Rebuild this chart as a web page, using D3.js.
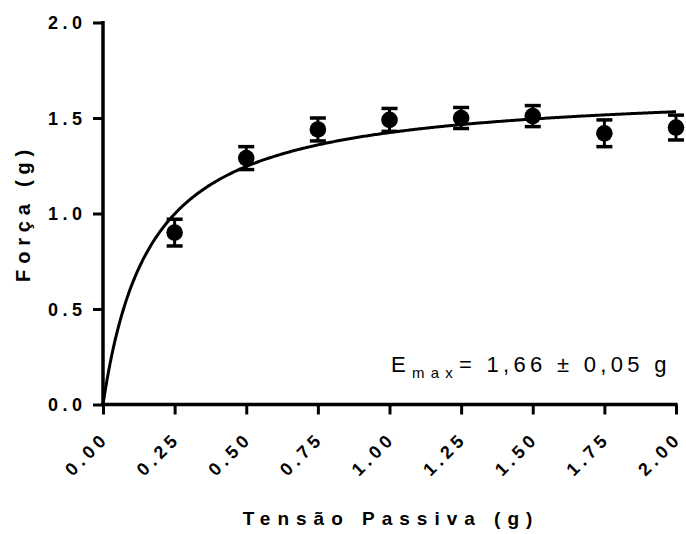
<!DOCTYPE html>
<html>
<head>
<meta charset="utf-8">
<script src="https://cdn.jsdelivr.net/npm/d3@7"></script>
<style>
  html, body { margin: 0; padding: 0; background: #fff; }
  svg { display: block; font-family: "Liberation Sans", Arial, sans-serif; }
</style>
</head>
<body>
<svg id="chart" width="686" height="534"></svg>
<script>
// Passive tension (g) and developed force (g), mean ± SEM
const tension = [0.25, 0.50, 0.75, 1.00, 1.25, 1.50, 1.75, 2.00];
const force   = [0.90, 1.29, 1.44, 1.49, 1.50, 1.51, 1.42, 1.45];
const sem     = [0.07, 0.06, 0.06, 0.06, 0.055, 0.055, 0.07, 0.065];

// Hyperbolic fit: F = Emax * T / (K + T)
const emax = 1.66;
const emaxErr = 0.05;
const kHalf = 0.166;

const xTicks = [0, 0.25, 0.5, 0.75, 1, 1.25, 1.5, 1.75, 2];
const yTicks = [0, 0.5, 1, 1.5, 2];

const svg = d3.select("#chart");
const x = d3.scaleLinear().domain([0, 2]).range([103, 676]);
const y = d3.scaleLinear().domain([0, 2]).range([404.5, 22.5]);

// Y axis
const yAxis = svg.append("g").attr("transform", "translate(103,0)")
  .call(d3.axisLeft(y).tickValues(yTicks).tickSize(10).tickFormat(d3.format(".1f")));
yAxis.select(".domain").attr("stroke-width", 3.5).attr("d", `M0,${y(2)-1.5}V${y(0)}`);
yAxis.selectAll(".tick line").attr("stroke-width", 3);
yAxis.selectAll(".tick text")
  .attr("x", -16.5).attr("dy", "0.36em")
  .style("font-size", "18px").style("font-weight", "bold")
  .style("letter-spacing", "4.5px").attr("fill", "#000");

// X axis
const xAxis = svg.append("g").attr("transform", `translate(0,${y(0)})`)
  .call(d3.axisBottom(x).tickValues(xTicks).tickSize(10).tickFormat(d3.format(".2f")));
xAxis.select(".domain").attr("stroke-width", 3.5).attr("d", `M${x(0)-1.5},0H${x(2)+1.5}`);
xAxis.selectAll(".tick line").attr("stroke-width", 3);
xAxis.selectAll(".tick text")
  .attr("text-anchor", "end")
  .attr("x", null).attr("y", null).attr("dy", null)
  .attr("transform", "translate(6.5,35) rotate(-45)")
  .style("font-size", "18px").style("font-weight", "bold")
  .style("letter-spacing", "4.5px").attr("fill", "#000");

// Fitted curve
const fit = d3.range(0, 2.0001, 0.005).map(t => [t, emax * t / (kHalf + t)]);
svg.append("path")
  .datum(fit)
  .attr("fill", "none").attr("stroke", "#000").attr("stroke-width", 3)
  .attr("d", d3.line().x(d => x(d[0])).y(d => y(d[1])));

// Error bars and points
const pts = tension.map((t, i) => ({ t, f: force[i], e: sem[i] }));
const g = svg.append("g");
g.selectAll(".eb").data(pts).join("line")
  .attr("x1", d => x(d.t)).attr("x2", d => x(d.t))
  .attr("y1", d => y(d.f + d.e)).attr("y2", d => y(d.f - d.e))
  .attr("stroke", "#000").attr("stroke-width", 3);
g.selectAll(".capTop").data(pts).join("line")
  .attr("x1", d => x(d.t) - 8).attr("x2", d => x(d.t) + 8)
  .attr("y1", d => y(d.f + d.e)).attr("y2", d => y(d.f + d.e))
  .attr("stroke", "#000").attr("stroke-width", 3.5);
g.selectAll(".capBot").data(pts).join("line")
  .attr("x1", d => x(d.t) - 8).attr("x2", d => x(d.t) + 8)
  .attr("y1", d => y(d.f - d.e)).attr("y2", d => y(d.f - d.e))
  .attr("stroke", "#000").attr("stroke-width", 3.5);
g.selectAll("circle").data(pts).join("circle")
  .attr("cx", d => x(d.t)).attr("cy", d => y(d.f)).attr("r", 8.3)
  .attr("fill", "#000");

// Axis titles
svg.append("text")
  .attr("x", 391).attr("y", 525).attr("text-anchor", "middle")
  .style("font-size", "19px").style("font-weight", "bold").style("letter-spacing", "7px")
  .text("Tensão Passiva (g)");
svg.append("text")
  .attr("transform", "translate(30,213) rotate(-90)").attr("text-anchor", "middle")
  .style("font-size", "20px").style("font-weight", "bold").style("letter-spacing", "5.8px")
  .text("Força (g)");

// Emax annotation
const comma = v => d3.format(".2f")(v).replace(".", ",");
const ann = svg.append("text").attr("x", 391).attr("y", 372)
  .style("font-size", "22px").style("letter-spacing", "4.3px");
ann.append("tspan").text("E");
ann.append("tspan").attr("dy", 6).attr("dx", 2)
  .style("font-size", "15px").style("letter-spacing", "6.2px").text("max");
ann.append("tspan").attr("dy", -6).text(`= ${comma(emax)} ± ${comma(emaxErr)} g`);
</script>
</body>
</html>
